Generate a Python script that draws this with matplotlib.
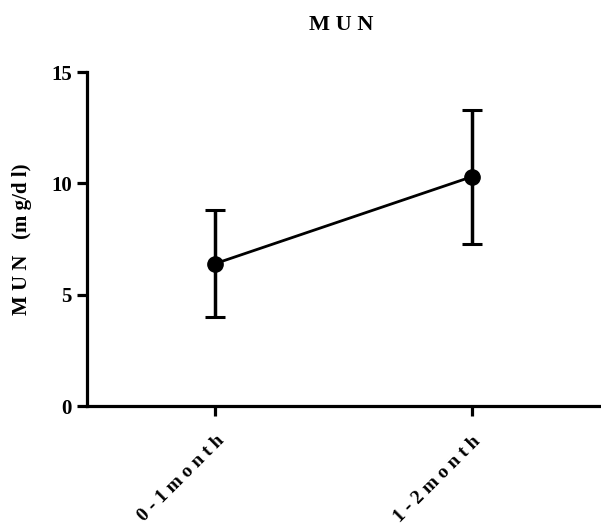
import matplotlib.pyplot as plt

# data
groups = ["0 - 1 m o n t h", "1 - 2 m o n t h"]
mun_mean = [6.4, 10.3]
mun_err_low = [2.4, 3.0]
mun_err_high = [2.4, 3.0]

plt.rcParams['font.family'] = ['Liberation Serif', 'DejaVu Serif']
plt.rcParams['font.weight'] = 'bold'

fig = plt.figure(figsize=(6.01, 5.27), dpi=100)
ax = fig.add_axes([0.145, 0.2296, 0.853, 0.6334])

x = list(range(len(groups)))
ax.errorbar(x, mun_mean, yerr=[mun_err_low, mun_err_high], color='black',
            lw=2, marker='o', ms=11, capsize=7, capthick=2.2, elinewidth=2.5)

ax.set_xlim(-0.5, 1.5)
ax.set_ylim(0, 15)
ax.set_yticks([0, 5, 10, 15])
ax.set_xticks(x)
ax.set_xticklabels(groups, rotation=45, ha='right', rotation_mode='anchor')

for s in ['top', 'right']:
    ax.spines[s].set_visible(False)
for s in ['left', 'bottom']:
    ax.spines[s].set_linewidth(2.3)
ax.tick_params(width=2.3, length=7, labelsize=14, pad=4)
ax.tick_params(axis='y', labelsize=15)
ax.tick_params(axis='x', pad=12)
for lab in ax.get_xticklabels() + ax.get_yticklabels():
    lab.set_fontweight('bold')

ax.set_ylabel("M U N   (m g/d l)", fontsize=15, fontweight='bold', labelpad=14)
fig.text(0.567, 0.953, "M U N", ha='center', va='center', fontsize=16, fontweight='bold')

fig.savefig("out.png", dpi=100)
